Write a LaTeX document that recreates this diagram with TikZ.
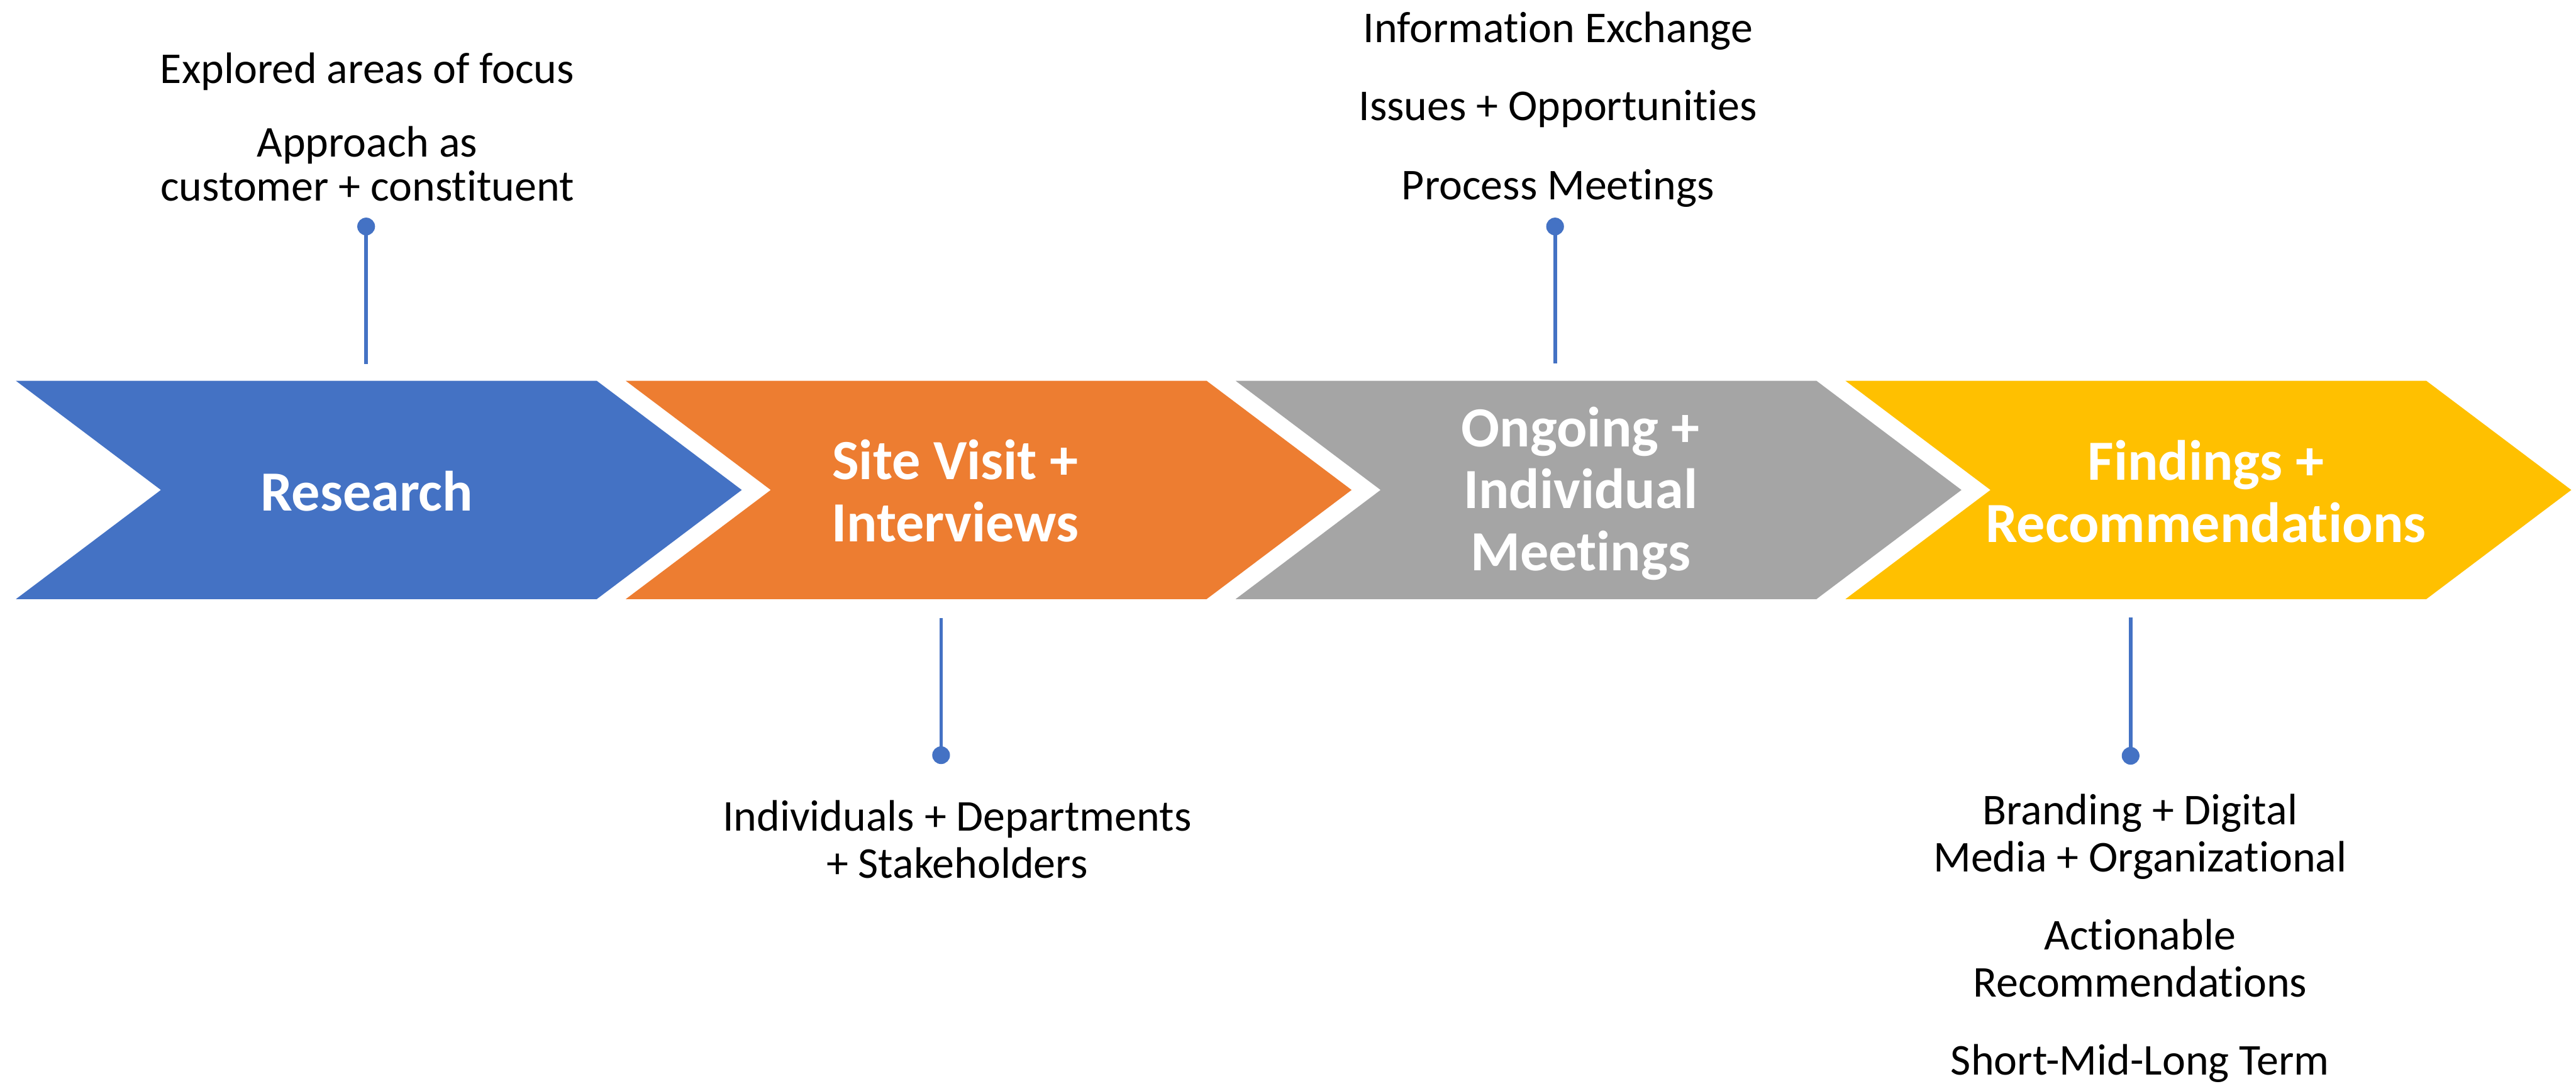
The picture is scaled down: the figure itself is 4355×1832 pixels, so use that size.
\documentclass[tikz,border=0pt]{standalone}
\usepackage{fontspec}
\setmainfont{Carlito}[Ligatures=NoCommon]
\usepackage{xcolor}
\usetikzlibrary{positioning}

\definecolor{stageblue}{HTML}{4472C4}
\definecolor{stageorange}{HTML}{ED7D31}
\definecolor{stagegray}{HTML}{A5A5A5}
\definecolor{stageyellow}{HTML}{FFC000}
\definecolor{pinblue}{HTML}{4472C4}

\begin{document}
\begin{tikzpicture}[x=0.25pt, y=-0.25pt,
    stage/.style={text=white, font=\fontsize{24}{26.25}\selectfont\bfseries, align=center, anchor=base},
    note/.style={font=\fontsize{18.6}{20}\selectfont, align=center, anchor=base},
    pin/.style={draw=pinblue, line width=1.5pt},
    dot/.style={circle, fill=pinblue, inner sep=0pt, minimum size=7.5pt}]
    \useasboundingbox (0,0) rectangle (4355,1832);

    % Chevrons
    \fill[stageblue] (27,644) -- (1009,644) -- (1254,828.5) -- (1009,1013) -- (27,1013) -- (272,828.5) -- cycle;
    \fill[stageorange] (1058,644) -- (2040,644) -- (2285,828.5) -- (2040,1013) -- (1058,1013) -- (1303,828.5) -- cycle;
    \fill[stagegray] (2089,644) -- (3071,644) -- (3316,828.5) -- (3071,1013) -- (2089,1013) -- (2334,828.5) -- cycle;
    \fill[stageyellow] (3120,644) -- (4102,644) -- (4347,828.5) -- (4102,1013) -- (3120,1013) -- (3365,828.5) -- cycle;

    % Stage titles (placed by the baseline of their last line)
    \node[stage] (research) at (620,864) {Research};
    \node[stage] (sitevisit) at (1615,916) {Site Visit +\\Interviews};
    \node[stage] (ongoing) at (2672,965) {Ongoing +\\Individual\\Meetings};
    \node[stage] (findings) at (3729,917) {Findings +\\Recommendations};

    % Notes above
    \node[note, font=\fontsize{18.6}{18.75}\selectfont] (focus) at (621,340)
        {Explored areas of focus\\[12.25pt]Approach as\\customer + constituent};
    \node[note] (exchange) at (2634,338)
        {Information Exchange\\[13pt]Issues + Opportunities\\[13.5pt]Process Meetings};

    % Notes below
    \node[note] (individuals) at (1618,1485)
        {Individuals + Departments\\+ Stakeholders};
    \node[note] (branding) at (3618,1818)
        {Branding + Digital\\Media + Organizational\\[13pt]Actionable\\Recommendations\\[13pt]Short-Mid-Long Term};

    % Pins
    \node[dot] (focusdot) at (619,383) {};
    \coordinate (focusend) at (619,616);
    \draw[pin] (focusdot.center) -- (focusend);

    \node[dot] (individualsdot) at (1591,1277) {};
    \coordinate (individualsend) at (1591,1045);
    \draw[pin] (individualsdot.center) -- (individualsend);

    \node[dot] (exchangedot) at (2629,383) {};
    \coordinate (exchangeend) at (2629,615);
    \draw[pin] (exchangedot.center) -- (exchangeend);

    \node[dot] (brandingdot) at (3602,1278) {};
    \coordinate (brandingend) at (3602,1044);
    \draw[pin] (brandingdot.center) -- (brandingend);
\end{tikzpicture}
\end{document}
